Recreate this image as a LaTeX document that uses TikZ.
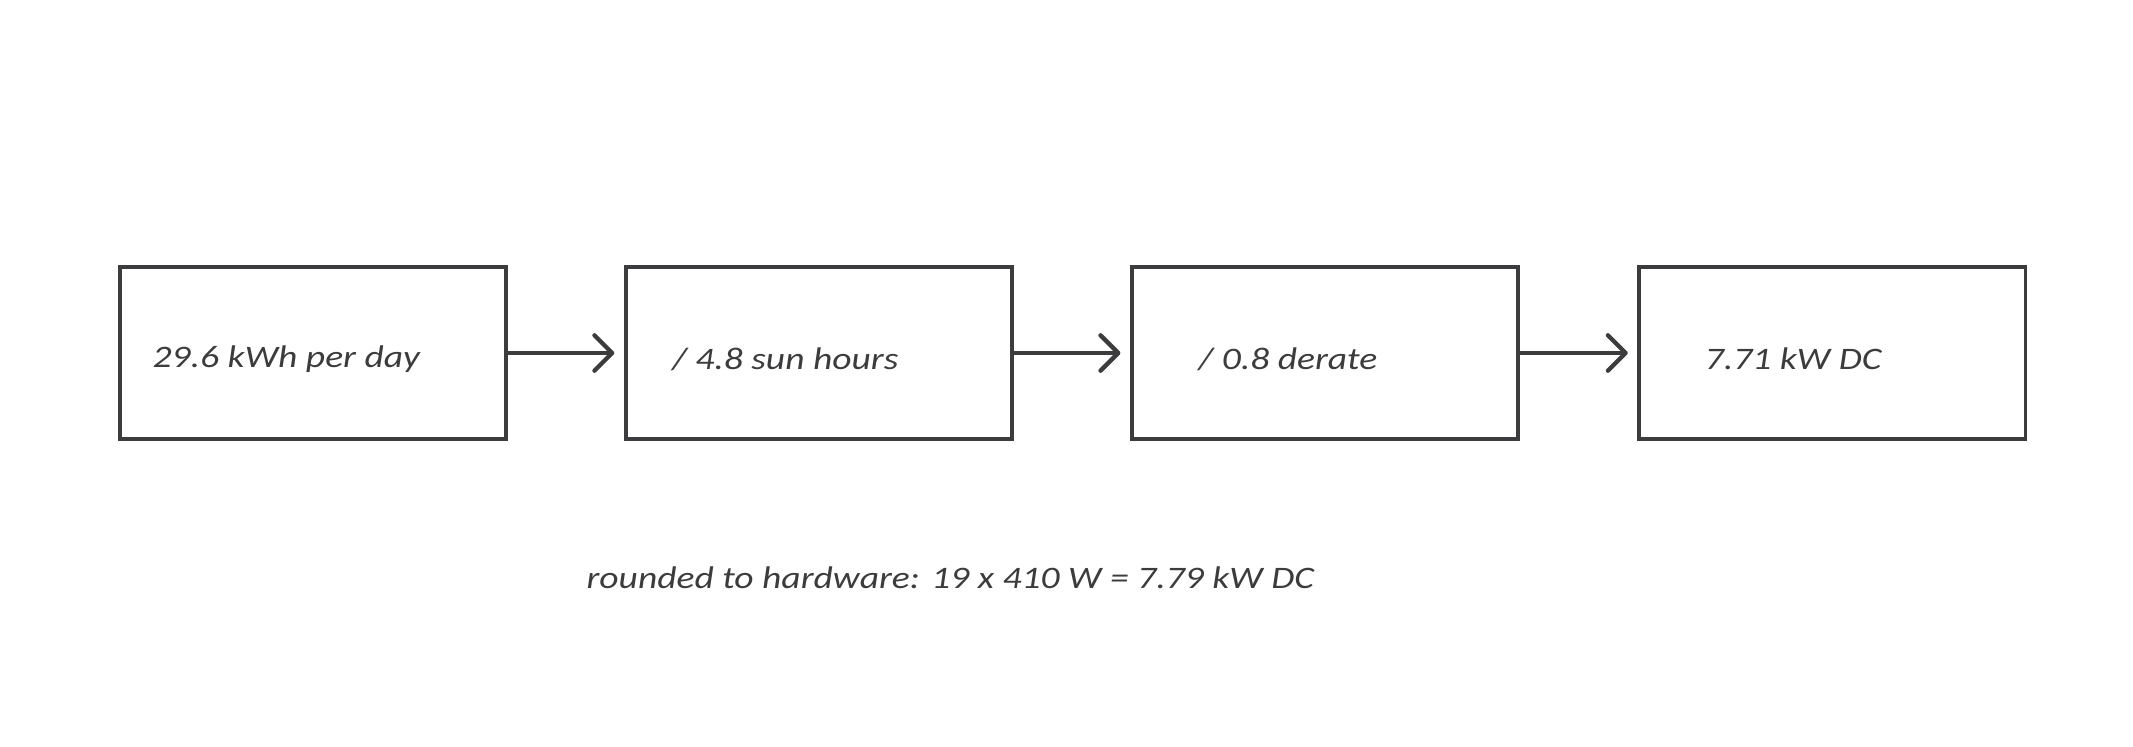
\documentclass[tikz,border=0pt]{standalone}
\usepackage{fontspec}
\setmainfont{Carlito}[FakeStretch=1.2]
\usetikzlibrary{arrows.meta}
\definecolor{ink}{HTML}{3C3C3F}
\begin{document}
\begin{tikzpicture}[x=1pt,y=-1pt,
  box/.style={draw=ink,line width=2.8pt,minimum width=284pt,minimum height=127pt,inner sep=0pt},
  lbl/.style={text=ink,font=\fontsize{23}{26}\selectfont\itshape,anchor=west,inner sep=0pt},
  arr/.style={draw=ink,line width=3pt,-{Straight Barb[length=13pt,width=26pt,line width=3.2pt,round]},shorten >=7pt}]
\useasboundingbox (0,0) rectangle (1568,549);
\node[box] (b1) at (230,259.5) {};
\node[box] (b2) at (602,259.5) {};
\node[box] (b3) at (974,259.5) {};
\node[box] (b4) at (1347,259.5) {};
\node[lbl] (t1) at (112,264) {29.6 kWh per day};
\node[lbl] (t2) at (494,264) {/ 4.8 sun hours};
\node[lbl] (t3) at (881,264) {/ 0.8 derate};
\node[lbl] (t4) at (1253,264) {7.71 kW DC};
\node[lbl] (note) at (431,425) {rounded to hardware: 19 x 410 W = 7.79 kW DC};
\draw[arr] (b1.east) -- (b2.west);
\draw[arr] (b2.east) -- (b3.west);
\draw[arr] (b3.east) -- (b4.west);
\end{tikzpicture}
\end{document}
